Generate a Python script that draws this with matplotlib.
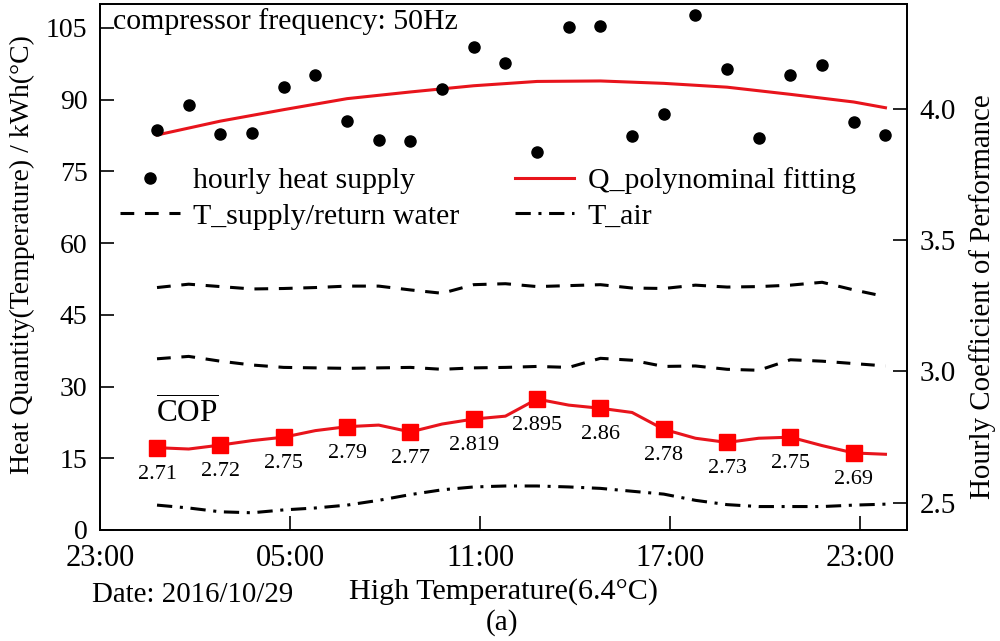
import numpy as np
import matplotlib
matplotlib.use('Agg')
import matplotlib.pyplot as plt
from matplotlib.lines import Line2D

plt.rcParams['font.family'] = 'Liberation Serif'
plt.rcParams['mathtext.fontset'] = 'custom'
plt.rcParams['mathtext.rm'] = 'Liberation Serif'

# hours after 23:00 of the previous day
hours = [1.8, 2.8, 3.8, 4.8, 5.8, 6.8, 7.8, 8.8, 9.8, 10.8, 11.8, 12.8,
         13.8, 14.8, 15.8, 16.8, 17.8, 18.8, 19.8, 20.8, 21.8, 22.8, 23.8, 24.8]

heat_supply = [83.7, 88.8, 82.8, 83.1, 92.6, 95.1, 85.6, 81.6, 81.3, 92.2, 100.9, 97.6,
               79.1, 105.1, 105.4, 82.3, 87.0, 107.6, 96.5, 81.9, 95.1, 97.3, 85.4, 82.5]

fit_hours = [1.8, 3.8, 5.8, 7.8, 9.8, 11.8, 13.8, 15.8, 17.8, 19.8, 21.8, 23.8, 24.8]
q_fit = [82.6, 85.5, 87.9, 90.2, 91.6, 92.9, 93.8, 93.9, 93.4, 92.6, 91.1, 89.5, 88.3]

t_supply = [50.7, 51.4, 50.9, 50.4, 50.5, 50.7, 51.0, 51.0, 50.2, 49.5, 51.3, 51.5,
            50.9, 51.1, 51.3, 50.6, 50.5, 51.2, 50.8, 50.9, 51.2, 51.8, 50.2, 48.8]
t_return = [35.8, 36.3, 35.3, 34.5, 34.0, 33.9, 33.8, 33.9, 34.0, 33.6, 33.9, 34.0,
            34.2, 34.0, 35.9, 35.5, 34.2, 34.3, 33.6, 33.4, 35.6, 35.3, 34.8, 34.3]
t_air = [5.2, 4.6, 3.8, 3.6, 4.2, 4.6, 5.2, 6.2, 7.4, 8.4, 9.0, 9.2,
         9.2, 9.0, 8.7, 8.1, 7.5, 6.2, 5.3, 4.9, 4.9, 4.9, 5.2, 5.4]

# hourly COP curve (right axis) and the 2-hourly averaged points
cop_line = [2.71, 2.705, 2.72, 2.737, 2.75, 2.775, 2.79, 2.796, 2.77, 2.80, 2.819, 2.83,
            2.895, 2.872, 2.86, 2.844, 2.78, 2.746, 2.73, 2.746, 2.75, 2.718, 2.69, 2.685]
cop_hours = [1.8, 3.8, 5.8, 7.8, 9.8, 11.8, 13.8, 15.8, 17.8, 19.8, 21.8, 23.8]
cop_avg = [2.71, 2.72, 2.75, 2.79, 2.77, 2.819, 2.895, 2.86, 2.78, 2.73, 2.75, 2.69]
cop_labels = ['2.71', '2.72', '2.75', '2.79', '2.77', '2.819', '2.895', '2.86',
              '2.78', '2.73', '2.75', '2.69']

xtick_pos = [0, 6, 12, 18, 24]
xtick_lab = ['23:00', '05:00', '11:00', '17:00', '23:00']

red = '#e8141c'
dash = (0, (4.5, 3.5))
dashdot = (0, (5, 2.5, 1, 2.5))

fig = plt.figure(figsize=(10, 6.41), dpi=100)
ax = fig.add_axes([0.1, 0.1732, 0.807, 0.8206])
ax2 = ax.twinx()

ax.plot(hours, heat_supply, 'o', color='black', ms=8, zorder=5)
ax.plot(fit_hours, q_fit, color=red, lw=2.2)
ax.plot(hours, t_supply, color='black', lw=2.2, linestyle=dash)
ax.plot(hours, t_return, color='black', lw=2.2, linestyle=dash)
ax.plot(hours, t_air, color='black', lw=2.2, linestyle=dashdot)

ax2.plot(hours, cop_line, color=red, lw=2.2)
ax2.plot(cop_hours, cop_avg, 's', color='red', ms=11, lw=0)
for h, v, s in zip(cop_hours, cop_avg, cop_labels):
    ax2.annotate(s, (h, v), xytext=(0, -19), textcoords='offset points',
                 ha='center', va='center', fontsize=16)

ax.set_xlim(0, 25.48)
ax.set_ylim(0, 110)
ax2.set_ylim(2.397, 4.398)
ax.set_xticks(xtick_pos)
ax.set_xticklabels(xtick_lab)
ax.set_yticks([0, 15, 30, 45, 60, 75, 90, 105])
ax2.set_yticks([2.5, 3.0, 3.5, 4.0])
ax2.set_yticklabels(['2.5', '3.0', '3.5', '4.0'])

ax.tick_params(axis='y', direction='in', length=10, width=1.2, labelsize=20, pad=9)
ax.tick_params(axis='x', direction='in', length=10, width=1.2, labelsize=22, pad=10)
ax2.tick_params(axis='y', direction='in', length=10, width=1.2, labelsize=21, pad=9)
for a in (ax, ax2):
    for sp in a.spines.values():
        sp.set_linewidth(1.3)

ax.set_ylabel('Heat Quantity(Temperature) / kWh(°C)', fontsize=20)
ax.yaxis.set_label_coords(-0.0805, 0.523)
ax2.set_ylabel('Hourly Coefficient of Performance', fontsize=20.8, rotation=90)
ax2.yaxis.set_label_coords(1.077, 0.444)
ax.set_xlabel('High Temperature(6.4°C)', fontsize=21.7)
ax.xaxis.set_label_coords(0.5, -0.091)

ax.text(0.016, 0.966, 'compressor frequency: 50Hz', transform=ax.transAxes,
        fontsize=21.5, ha='left', va='center')
ax.text(0.07, 0.2225, r'$\overline{\mathrm{COP}}$', transform=ax.transAxes,
        fontsize=22.5, ha='left', va='center')
fig.text(92, 641 - 595, 'Date: 2016/10/29', fontsize=20.8, ha='left', va='center',
         transform=None)
fig.text(502, 641 - 623, '(a)', fontsize=21, ha='center', va='center', transform=None)

handles = [Line2D([], [], marker='o', color='black', lw=0, ms=8),
           Line2D([], [], color='black', lw=2.2, linestyle=dash),
           Line2D([], [], color=red, lw=2.2),
           Line2D([], [], color='black', lw=2.2, linestyle=dashdot)]
labels = ['hourly heat supply', 'T_supply/return water',
          'Q_polynominal fitting', 'T_air']
ax.legend(handles, labels, ncol=2, frameon=False, fontsize=21.5,
          loc='upper left', bbox_to_anchor=(0.0248, 0.69), borderpad=0,
          borderaxespad=0, handlelength=2.0, handletextpad=0.45,
          columnspacing=1.85, labelspacing=0.3)

fig.savefig('out.png', dpi=100)
